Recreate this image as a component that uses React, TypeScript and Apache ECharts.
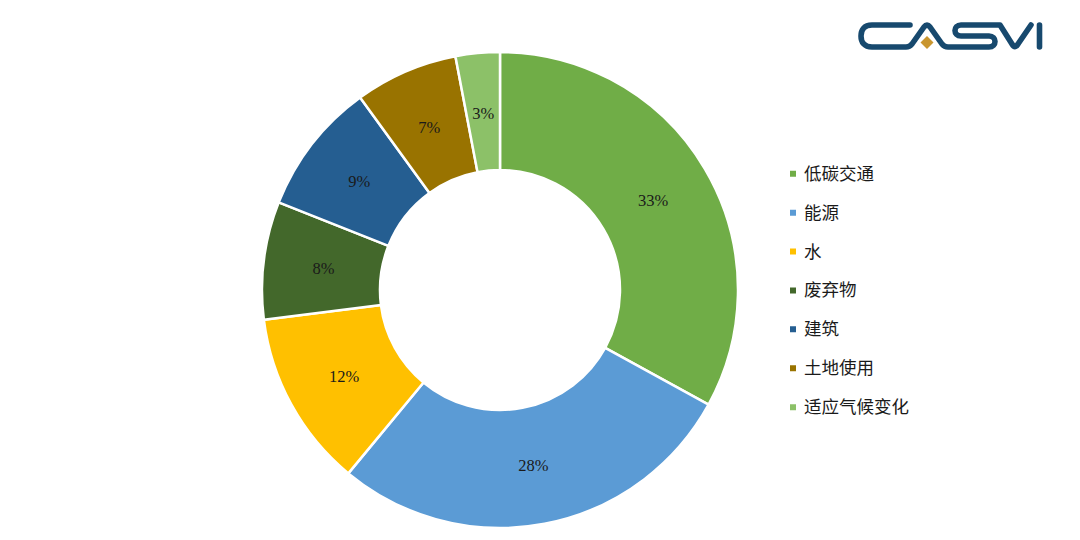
import React, { useEffect, useRef } from "react";
import * as echarts from "echarts";

const categories = ["低碳交通", "能源", "水", "废弃物", "建筑", "土地使用", "适应气候变化"];
const shares = [33, 28, 12, 8, 9, 7, 3];
const colors = ["#70AD47", "#5B9BD5", "#FFC000", "#43682B", "#255E91", "#997300", "#8CC168"];
const FONT = '"Liberation Serif", "Noto Sans CJK SC", serif';
const LABEL_INSET = 4;

const LOGO_D =
  "M910 25 L872 25 C864 25 861 30 861 36 C861 42 864 47 872 47 L906 47 C909 47 910 46.5 912 44 L924 27 C926 24.5 928 24.5 930 27 L942 44 C944 46.5 945 47 948 47 L989 47 C997 47 997 36 989 36 L961 36 C953 36 953 25 961 25 L1000 25 L1012 44 C1014 47.5 1016 47.5 1018 44 L1031 25 M1039.5 25 L1039.5 47";
echarts.graphic.registerShape("casviLogo", echarts.graphic.extendPath(LOGO_D as any, {}) as any);

const total = shares.reduce((a, b) => a + b, 0);
const midAngle = (i: number) => {
  const before = shares.slice(0, i).reduce((a, b) => a + b, 0);
  return ((before + shares[i] / 2) / total) * 2 * Math.PI;
};

export default function App() {
  const ref = useRef<HTMLDivElement>(null);
  useEffect(() => {
    const chart = echarts.init(ref.current!, undefined, { renderer: "svg" });
    chart.setOption({
      animation: false,
      backgroundColor: "#ffffff",
      color: colors,
      legend: {
        orient: "vertical",
        left: 788,
        top: 165,
        padding: 0,
        icon: "rect",
        itemWidth: 8,
        itemHeight: 8,
        itemGap: 21.4,
        selectedMode: false,
        textStyle: { fontFamily: FONT, fontSize: 17.5, color: "#1a1a1a", padding: [0, 0, 0, 2] },
      },
      series: [
        {
          type: "pie",
          center: [500, 290],
          radius: [120, 238],
          startAngle: 90,
          clockwise: true,
          label: {
            position: "inside",
            formatter: "{c}%",
            fontFamily: FONT,
            fontSize: 16.5,
            color: "#1a1a1a",
          },
          labelLine: { show: false },
          labelLayout: (params: any) => {
            const a = midAngle(params.dataIndex);
            return { dx: -Math.sin(a) * LABEL_INSET, dy: Math.cos(a) * LABEL_INSET + 1 };
          },
          itemStyle: { borderColor: "#ffffff", borderWidth: 2.5 },
          emphasis: { disabled: true },
          data: categories.map((name, i) => ({ name, value: shares[i] })),
        },
      ],
      graphic: [
        {
          type: "casviLogo",
          style: { fill: "none", stroke: "#17496E", lineWidth: 5.6, lineCap: "round", lineJoin: "round" },
        },
        {
          type: "polygon",
          shape: { points: [[927, 36], [933.5, 42.5], [927, 49], [920.5, 42.5]] },
          style: { fill: "#C9962F" },
        },
      ],
    });
    return () => chart.dispose();
  }, []);
  return <div ref={ref} style={{ position: "fixed", left: 0, top: 0, width: 1080, height: 540 }} />;
}
